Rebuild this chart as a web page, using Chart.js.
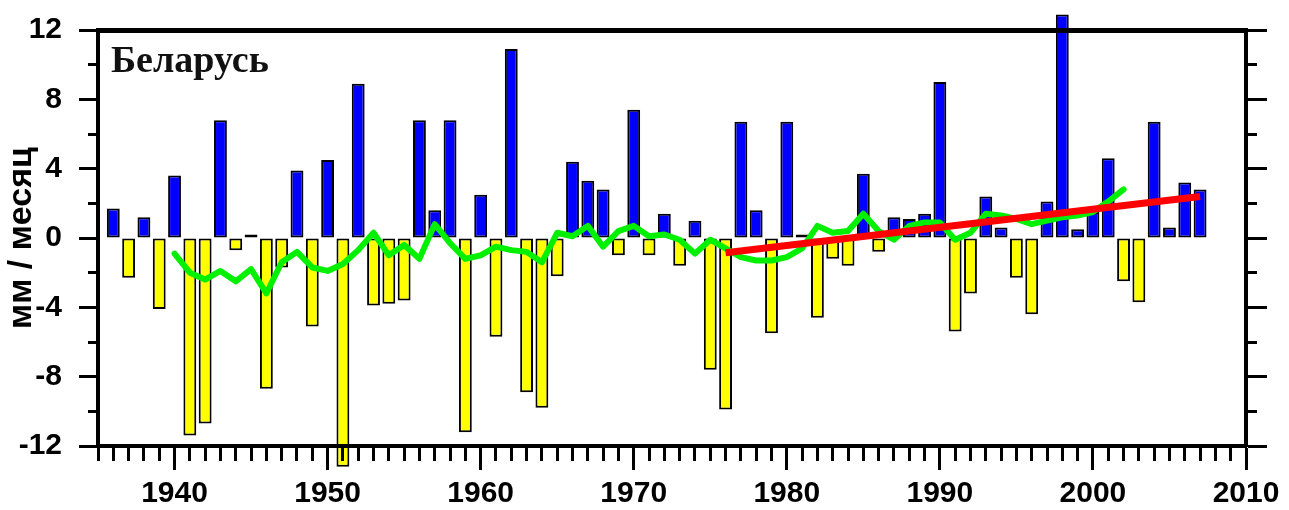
<!DOCTYPE html>
<html>
<head>
<meta charset="utf-8">
<style>
  html, body { margin: 0; padding: 0; background: #fff; }
  #wadah { width: 1289px; height: 510px; }
</style>
<script src="https://cdn.jsdelivr.net/npm/chart.js@4/dist/chart.umd.min.js"></script>
</head>
<body>
<div id="wadah"><canvas id="grafik" width="1289" height="510"></canvas></div>
<script>
// Data anomali curah hujan (mm / bulan)
const judul = "Беларусь";
const judulSumbuY = "мм / месяц";

const tahun = [
  1936, 1937, 1938, 1939, 1940, 1941, 1942, 1943, 1944, 1945,
  1946, 1947, 1948, 1949, 1950, 1951, 1952, 1953, 1954, 1955,
  1956, 1957, 1958, 1959, 1960, 1961, 1962, 1963, 1964, 1965,
  1966, 1967, 1968, 1969, 1970, 1971, 1972, 1973, 1974, 1975,
  1976, 1977, 1978, 1979, 1980, 1981, 1982, 1983, 1984, 1985,
  1986, 1987, 1988, 1989, 1990, 1991, 1992, 1993, 1994, 1995,
  1996, 1997, 1998, 1999, 2000, 2001, 2002, 2003, 2004, 2005,
  2006, 2007
];
const anomali = [
  1.7, -2.3, 1.2, -4.1, 3.6, -11.4, -10.7, 6.8, -0.7, 0.2,
  -8.7, -1.7, 3.9, -5.1, 4.5, -13.2, 8.9, -3.9, -3.8, -3.6,
  6.8, 1.6, 6.8, -11.2, 2.5, -5.7, 10.9, -8.9, -9.8, -2.2,
  4.4, 3.3, 2.8, -1.0, 7.4, -1.0, 1.4, -1.6, 1.0, -7.6,
  -9.9, 6.7, 1.6, -5.5, 6.7, 0.2, -4.6, -1.2, -1.6, 3.7,
  -0.8, 1.2, 1.1, 1.4, 9.0, -5.4, -3.2, 2.4, 0.6, -2.3,
  -4.4, 2.1, 12.9, 0.5, 1.5, 4.6, -2.5, -3.7, 6.7, 0.6,
  3.2, 2.8
];

// Rata-rata bergerak (garis hijau)
const tahunRataan = [
  1940, 1941, 1942, 1943, 1944, 1945, 1946, 1947, 1948, 1949,
  1950, 1951, 1952, 1953, 1954, 1955, 1956, 1957, 1958, 1959,
  1960, 1961, 1962, 1963, 1964, 1965, 1966, 1967, 1968, 1969,
  1970, 1971, 1972, 1973, 1974, 1975, 1976, 1977, 1978, 1979,
  1980, 1981, 1982, 1983, 1984, 1985, 1986, 1987, 1988, 1989,
  1990, 1991, 1992, 1993, 1994, 1995, 1996, 1997, 1998, 1999,
  2000, 2001, 2002
];
const rataan = [
  -0.9, -2.0, -2.4, -1.9, -2.5, -1.8, -3.2, -1.4, -0.8, -1.7,
  -1.9, -1.5, -0.7, 0.3, -1.0, -0.4, -1.2, 0.8, -0.3, -1.2,
  -1.0, -0.5, -0.7, -0.8, -1.4, 0.3, 0.1, 0.7, -0.5, 0.4,
  0.7, 0.1, 0.2, -0.1, -0.9, -0.1, -0.6, -1.1, -1.3, -1.3,
  -1.1, -0.6, 0.7, 0.3, 0.4, 1.4, 0.4, -0.1, 0.7, 0.9,
  0.9, -0.1, 0.3, 1.4, 1.3, 1.1, 0.8, 1.0, 1.2, 1.3,
  1.5, 2.1, 2.8
];

// Garis tren (merah)
const tahunTren = [1976, 2007];
const tren = [-0.85, 2.4];

// Label sumbu
const labelX = [1940, 1950, 1960, 1970, 1980, 1990, 2000, 2010];
const labelY = [-12, -8, -4, 0, 4, 8, 12];

const biru = "#0000ff";
const kuning = "#ffff00";
const hijau = "#00f000";
const merah = "#ff0000";
const hitam = "#000000";

const fontAngka = {
  family: '"Liberation Sans", Arial, sans-serif',
  weight: "bold",
  size: 30,
  lineHeight: 1
};

// Tulis judul negara di dalam area grafik
const pluginJudul = {
  id: "judul",
  afterDraw(chart) {
    const { ctx, chartArea } = chart;
    ctx.save();
    ctx.font = 'bold 38px "Liberation Serif", "Times New Roman", serif';
    ctx.fillStyle = "#111";
    ctx.textBaseline = "alphabetic";
    ctx.fillText(judul, chartArea.left + 13, chartArea.top + 42);
    ctx.restore();
  }
};

// Hilangkan padding label supaya area grafik tidak bergeser
function aturLebar(lebar) {
  return s => {
    s.width = lebar;
    s.paddingTop = 0;
    s.paddingBottom = 0;
  };
}

function renderGrafik() {
  const ctx = document.getElementById("grafik").getContext("2d");

  new Chart(ctx, {
    type: "bar",
    data: {
      datasets: [
        {
          type: "line",
          data: tahunTren.map((t, i) => ({ x: t, y: tren[i] })),
          borderColor: merah,
          borderWidth: 7,
          pointRadius: 0,
          tension: 0,
          order: 1
        },
        {
          type: "line",
          data: tahunRataan.map((t, i) => ({ x: t, y: rataan[i] })),
          borderColor: hijau,
          borderWidth: 6,
          borderJoinStyle: "round",
          borderCapStyle: "round",
          pointRadius: 0,
          tension: 0,
          order: 2
        },
        {
          type: "bar",
          data: tahun.map((t, i) => ({ x: t, y: anomali[i] })),
          backgroundColor: anomali.map(v => (v < 0 ? kuning : biru)),
          borderColor: hitam,
          borderWidth: 2,
          borderSkipped: false,
          barPercentage: 0.84,
          categoryPercentage: 1,
          clip: false,
          order: 3
        }
      ]
    },
    options: {
      responsive: false,
      animation: false,
      events: [],
      layout: { padding: { top: 30, left: 0, right: 0, bottom: 0 } },
      plugins: {
        legend: { display: false },
        tooltip: { enabled: false }
      },
      scales: {
        x: {
          type: "linear",
          position: "bottom",
          min: 1935,
          max: 2010,
          offset: false,
          grid: {
            offset: false,
            drawOnChartArea: false,
            tickLength: 24,
            tickWidth: 3,
            tickColor: hitam,
            tickBorderDash: c => (c.tick && c.tick.value % 10 === 0 ? [] : [13, 100]),
            z: 1
          },
          border: { color: hitam, width: 4, z: 1 },
          ticks: {
            stepSize: 1,
            autoSkip: false,
            maxRotation: 0,
            minRotation: 0,
            padding: 9,
            color: hitam,
            font: fontAngka,
            callback: v => (labelX.includes(v) ? String(v) : "")
          },
          afterFit: s => {
            s.height = 64;
            s.paddingLeft = 0;
            s.paddingRight = 0;
          }
        },
        xAtas: {
          type: "linear",
          position: "top",
          min: 1935,
          max: 2010,
          offset: false,
          grid: { offset: false, drawTicks: false, drawOnChartArea: false },
          border: { color: hitam, width: 5, z: 1 },
          ticks: { display: false },
          afterFit: s => { s.height = 0; }
        },
        y: {
          type: "linear",
          position: "left",
          min: -12,
          max: 12,
          grid: {
            drawOnChartArea: false,
            tickLength: 19,
            tickWidth: 3,
            tickColor: hitam,
            tickBorderDash: c => (c.tick && c.tick.value % 4 === 0 ? [] : [0, 9, 30, 100]),
            z: 1
          },
          border: { color: hitam, width: 4, z: 1 },
          ticks: {
            stepSize: 2,
            padding: 17,
            color: hitam,
            font: fontAngka,
            callback: v => (labelY.includes(v) ? String(v) : "")
          },
          title: {
            display: true,
            text: judulSumbuY,
            color: hitam,
            font: { family: '"Liberation Sans", Arial, sans-serif', weight: "bold", size: 34 },
            padding: { top: 1, bottom: 0 }
          },
          afterFit: aturLebar(98)
        },
        yKanan: {
          type: "linear",
          position: "right",
          min: -12,
          max: 12,
          grid: {
            drawOnChartArea: false,
            tickLength: 21,
            tickWidth: 3,
            tickColor: hitam,
            tickBorderDash: c => (c.tick && c.tick.value % 4 === 0 ? [] : [9, 100]),
            z: 1
          },
          border: { color: hitam, width: 4, z: 1 },
          ticks: { stepSize: 2, display: false },
          afterFit: aturLebar(43)
        }
      }
    },
    plugins: [pluginJudul]
  });
}

// Jalankan saat halaman siap
document.addEventListener("DOMContentLoaded", renderGrafik);
</script>
</body>
</html>
